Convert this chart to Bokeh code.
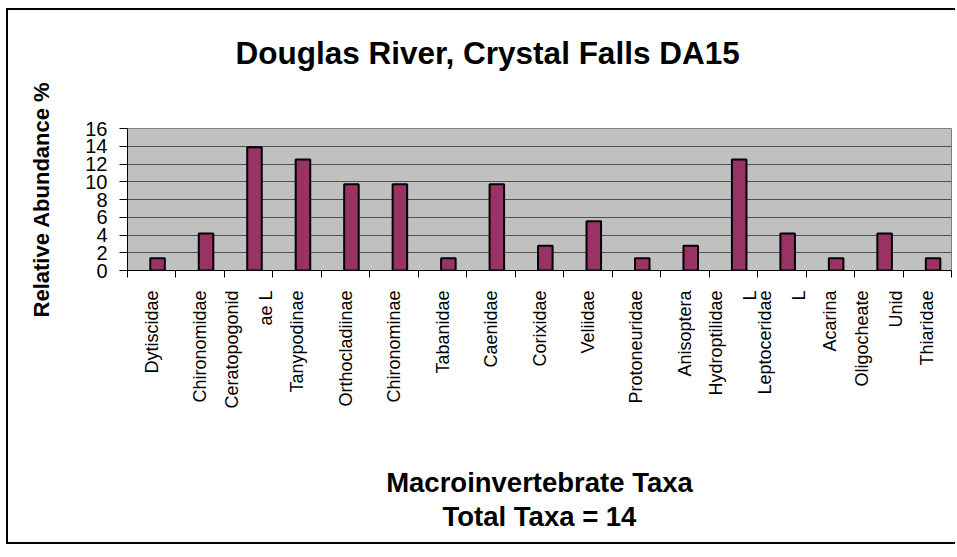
import math
from bokeh.plotting import figure
from bokeh.models import Range1d, FixedTicker, SingleIntervalTicker, ColumnDataSource
from bokeh.transform import dodge
from bokeh.embed import file_html
from bokeh.resources import INLINE

# ---- data ----
taxa_labels = [
    "Dytiscidae", "Chironomidae", "Ceratopogonid\nae L", "Tanypodinae",
    "Orthocladiinae", "Chironominae", "Tabanidae", "Caenidae", "Corixidae",
    "Veliidae", "Protoneuridae", "Anisoptera", "Hydroptilidae\nL",
    "Leptoceridae\nL", "Acarina", "Oligocheate\nUnid", "Thiaridae",
]
abundance = [1.39, 4.17, 13.89, 12.5, 9.72, 9.72, 1.39, 9.72, 2.78,
             5.56, 1.39, 2.78, 12.5, 4.17, 1.39, 4.17, 1.39]
y_min, y_max, y_step = 0, 16, 2

title_text = "Douglas River, Crystal Falls DA15"
x_title = "Macroinvertebrate Taxa\nTotal Taxa = 14"
y_title = "Relative Abundance %"

n = len(taxa_labels)
idx = list(range(n))
source = ColumnDataSource(dict(x=idx, abundance=abundance, label=taxa_labels))

FONT = "Liberation Sans"

p = figure(width=949, height=536, output_backend="svg", toolbar_location=None,
           x_range=Range1d(-0.5, n - 0.5), y_range=Range1d(y_min, y_max),
           min_border_left=119, min_border_right=6, min_border_top=118,
           min_border_bottom=276, title=title_text + "\n")

p.styles = {"margin-left": "6px", "margin-top": "8px",
            "border-left": "2px solid black", "border-top": "2px solid black",
            "border-bottom": "2px solid black"}

p.vbar(x=dodge("x", 0.12, range=p.x_range), top="abundance", width=0.3,
       source=source, fill_color="#993366", line_color="black", line_width=2)

p.background_fill_color = "#C0C0C0"
p.border_fill_color = "white"
p.outline_line_color = "#808080"
p.outline_line_width = 1

p.xgrid.visible = False
p.ygrid.grid_line_color = "#505050"
p.ygrid.grid_line_width = 1
p.ygrid.ticker = SingleIntervalTicker(interval=y_step)

# title
p.title.text_font = FONT
p.title.text_font_size = "31.5px"
p.title.text_font_style = "bold"
p.title.text_color = "black"
p.title.text_line_height = 1.0
p.title.align = "left"
p.title.offset = 108
p.title.standoff = 44

# x axis: ticks at category boundaries, names at centres
xa = p.xaxis[0]
xa.ticker = FixedTicker(ticks=idx, minor_ticks=[i - 0.5 for i in range(n + 1)])
xa.major_label_overrides = {i: lab for i, lab in enumerate(taxa_labels)}
xa.major_label_orientation = math.pi / 2
xa.major_label_text_align = "right"
xa.major_label_text_baseline = "middle"
xa.major_label_text_font = FONT
xa.major_label_text_font_size = "18px"
xa.major_label_text_color = "black"
xa.major_label_text_line_height = 1.7
xa.major_label_standoff = 13
xa.major_tick_line_color = None
xa.minor_tick_line_color = "black"
xa.minor_tick_out = 7
xa.minor_tick_in = 0
xa.axis_line_color = "black"
xa.axis_label = x_title
xa.axis_label_text_font = FONT
xa.axis_label_text_font_size = "27.5px"
xa.axis_label_text_font_style = "bold"
xa.axis_label_text_color = "black"
xa.axis_label_text_line_height = 1.1
xa.axis_label_standoff = 55

# y axis
ya = p.yaxis[0]
ya.ticker = SingleIntervalTicker(interval=y_step)
ya.major_label_text_font = FONT
ya.major_label_text_font_size = "20px"
ya.major_label_text_color = "black"
ya.major_label_standoff = 12
ya.major_tick_out = 8
ya.major_tick_in = 0
ya.major_tick_line_color = "black"
ya.minor_tick_line_color = None
ya.axis_line_color = "black"
ya.axis_label = y_title
ya.axis_label_text_font = FONT
ya.axis_label_text_font_size = "22px"
ya.axis_label_text_font_style = "bold"
ya.axis_label_text_color = "black"
ya.axis_label_standoff = 28

open("out.html", "w").write(file_html(p, INLINE))
